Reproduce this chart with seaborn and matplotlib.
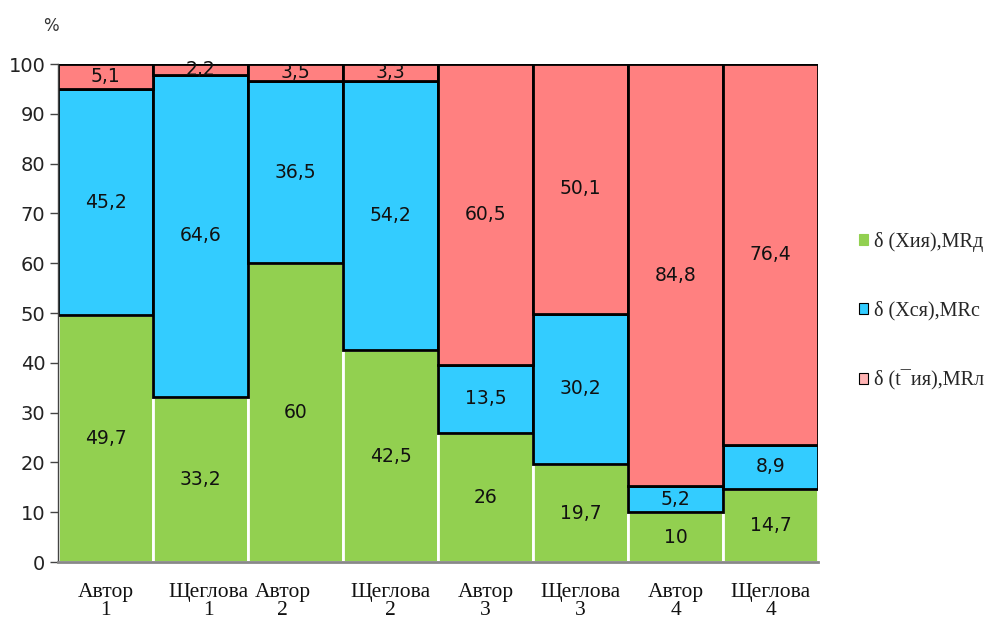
import matplotlib
matplotlib.use("Agg")
import matplotlib.pyplot as plt
import matplotlib.transforms as mtransforms
from matplotlib.patches import Patch
import seaborn as sns
import pandas as pd
import numpy as np

# Category labels (author / Shcheglova, series 1-4)
categories = ["Автор\n1", "Щеглова\n1", "Автор\n2", "Щеглова\n2",
              "Автор\n3", "Щеглова\n3", "Автор\n4", "Щеглова\n4"]

# Shares of each component, %
green_vals = [49.7, 33.2, 60, 42.5, 26, 19.7, 10, 14.7]
blue_vals = [45.2, 64.6, 36.5, 54.2, 13.5, 30.2, 5.2, 8.9]
red_vals = [5.1, 2.2, 3.5, 3.3, 60.5, 50.1, 84.8, 76.4]

series_labels = ["δ (Xия),MRд", "δ (Xся),MRc", "δ (t\u00afия),MRл"]
colors = ["#92D050", "#33CCFF", "#FF8080"]
edge_colors = ["white", "black", "black"]

yticks = list(range(0, 101, 10))

sns.set_theme(style="white")
plt.rcParams["font.family"] = ["DejaVu Sans"]

fig = plt.figure(figsize=(9.91, 6.19), dpi=100)
ax = fig.add_axes([0.0585, 0.092, 0.767, 0.8045])

df = pd.DataFrame({"cat": categories, "g": green_vals, "b": blue_vals, "r": red_vals})
bottoms = np.zeros(len(categories))
for col, color, ec in zip(["g", "b", "r"], colors, edge_colors):
    sns.barplot(data=df, x="cat", y=col, ax=ax, color=color, width=1.0,
                bottom=bottoms.copy(), edgecolor=ec, linewidth=2.0,
                saturation=1, order=categories)
    vals = df[col].to_numpy(dtype=float)
    for i, v in enumerate(vals):
        txt = f"{v:g}".replace(".", ",")
        ax.text(i, bottoms[i] + v / 2, txt, ha="center", va="center",
                fontsize=13.5, color="#111111")
    bottoms = bottoms + vals

ax.set_xlim(-0.5, len(categories) - 0.5)
ax.set_ylim(0, 100)
ax.set_yticks(yticks)
ax.set_yticklabels([str(t) for t in yticks], fontsize=14, color="#222222")
ax.tick_params(axis="y", which="both", left=True, length=6, width=1,
               color="#444444", pad=3)
ax.tick_params(axis="x", bottom=False, pad=9)
ax.set_xticks(range(len(categories)))
ax.set_xticklabels(categories, fontsize=15.5, family=["Liberation Serif"],
                   linespacing=0.95, color="#111111")
# narrow neighbouring labels are nudged apart slightly
label_shift_px = {1: 8, 2: -13}
for idx, dx in label_shift_px.items():
    lbl = ax.get_xticklabels()[idx]
    lbl.set_transform(lbl.get_transform() +
                      mtransforms.ScaledTranslation(dx / 100, 0, fig.dpi_scale_trans))
ax.set_xlabel("")
ax.set_ylabel("")
for side in ["top", "right"]:
    ax.spines[side].set_visible(False)
ax.spines["left"].set_color("#444444")
ax.spines["left"].set_linewidth(1.0)
ax.spines["bottom"].set_color("#888888")
ax.spines["bottom"].set_linewidth(2.0)

fig.text(0.051, 0.958, "%", fontsize=12, color="#333333", ha="center", va="center")

handles = [
    Patch(facecolor=colors[0], edgecolor=colors[0], linewidth=0.8),
    Patch(facecolor=colors[1], edgecolor="black", linewidth=0.8),
    Patch(facecolor="#FFB3B3", edgecolor="black", linewidth=0.8),
]
fig.legend(handles, series_labels, loc="center left",
           bbox_to_anchor=(0.867, 0.4976), frameon=False, borderpad=0,
           borderaxespad=0,
           prop={"family": "Liberation Serif", "size": 14.5},
           handlelength=0.45, handleheight=0.45, handletextpad=0.3,
           labelspacing=2.45)

fig.savefig("out.png", dpi=100)
